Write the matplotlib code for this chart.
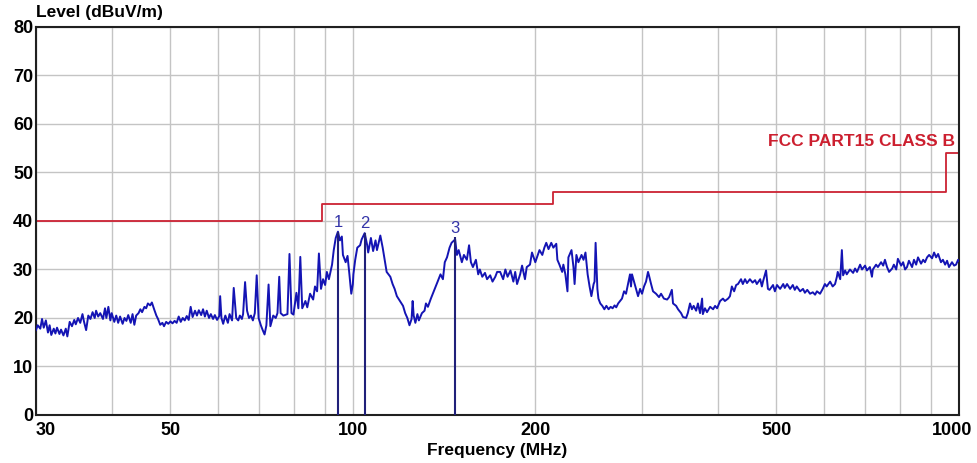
import matplotlib
matplotlib.use('Agg')
import matplotlib.pyplot as plt
from matplotlib.ticker import NullFormatter

plt.rcParams['font.family'] = ['Liberation Sans', 'DejaVu Sans']

# measured trace (MHz, dBuV/m)
freq_mhz = [
    30.0, 30.2, 30.5, 30.7, 30.9, 31.15, 31.4, 31.6, 31.8, 32.1, 32.3, 32.5, 32.8, 33.0, 33.3, 33.6, 33.8,
    34.1, 34.4, 34.7, 34.9, 35.2, 35.5, 35.8, 36.0, 36.3, 36.6, 36.9, 37.2, 37.5, 37.7, 38.0, 38.3, 38.7,
    39.0, 39.2, 39.5, 39.8, 40.0, 40.4, 40.7, 41.0, 41.3, 41.7, 42.0, 42.3, 42.6, 43.0, 43.3, 43.6, 43.9,
    44.3, 44.6, 44.9, 45.3, 45.6, 45.9, 46.3, 46.6, 47.0, 47.4, 47.7, 48.1, 48.5, 48.8, 49.2, 49.6, 50.0,
    50.4, 50.8, 51.2, 51.6, 52.0, 52.4, 52.8, 53.2, 53.6, 54.0, 54.4, 54.9, 55.3, 55.7, 56.2, 56.6, 57.0,
    57.4, 57.9, 58.3, 58.8, 59.2, 59.7, 60.2, 60.4, 60.7, 61.1, 61.6, 62.2, 62.6, 63.2, 63.6, 64.2, 64.7,
    65.1, 65.6, 65.9, 66.4, 66.9, 67.4, 67.9, 68.4, 68.9, 69.4, 69.9, 70.5, 71.0, 71.5, 72.0, 72.6,
    73.1, 73.9, 74.6, 75.1, 75.6, 76.0, 76.8, 78.0, 78.6, 79.2, 79.8, 80.7, 81.3, 81.9, 82.5, 83.5, 84.1,
    85.0, 86.0, 86.6, 87.3, 87.9, 88.6, 89.3, 90.0, 90.6, 91.3, 92.4, 93.0, 93.7, 94.5, 95.2, 95.9, 96.3,
    97.3, 98.0, 98.7, 99.4, 100.0, 100.2, 100.9, 101.7, 102.8, 103.4, 104.6, 105.6, 106.0, 107.1, 108.0,
    109.0, 109.6, 111.0, 112.0, 113.0, 113.7, 115.3, 116.3, 117.2, 118.2, 119.6, 121.0, 122.0, 123.0,
    124.0, 125.0, 125.5, 126.0, 126.8, 127.8, 128.5, 130.0, 131.3, 132.0, 133.0, 134.5, 135.5, 137.0,
    138.0, 139.5, 140.8, 141.8, 143.0, 144.4, 145.5, 147.5, 148.5, 149.5, 151.3, 152.5, 154.2, 155.5,
    156.6, 157.8, 159.6, 161.0, 162.0, 163.5, 165.2, 166.5, 168.5, 170.0, 171.8, 173.0,
    175.0, 177.0, 178.5, 180.0, 182.0, 184.0, 185.3, 186.6, 188.8, 190.2, 192.3, 193.6, 196.0, 197.5,
    200.0, 201.3, 203.2, 205.4, 207.0, 208.5, 210.3, 212.5, 214.2, 216.6, 217.5, 219.2, 221.5, 222.5,
    224.2, 226.0, 226.8, 229.5, 231.2, 232.2, 233.8, 235.6, 238.4, 240.2, 242.0, 244.0, 245.8, 247.5,
    249.6, 250.5, 251.5, 253.2, 254.2, 256.0, 258.0, 260.0, 262.0, 264.2, 266.3, 268.3, 270.3, 272.0,
    274.0, 276.0, 278.0, 280.2, 282.3, 284.5, 286.6, 287.7, 288.8, 291.0, 293.2, 295.5, 297.8, 300.0,
    302.3, 304.6, 306.9, 308.0, 310.5, 312.8, 316.4, 320.0, 322.5, 326.0, 330.0, 332.5, 336.0, 337.5,
    341.5, 344.0, 348.0, 350.5, 354.7, 357.0, 360.0, 362.6, 365.0, 368.5, 371.0, 374.0, 376.9, 378.0,
    381.0, 384.0, 388.6, 393.0, 396.0, 399.0, 403.6, 408.0, 411.0, 416.0, 419.0,
    422.0, 425.7, 429.0, 432.0, 437.0, 440.0, 443.7, 447.0, 452.0, 456.6, 461.0, 464.0, 470.0, 473.0,
    475.0, 480.6, 484.0, 487.0, 493.5, 497.0, 501.0, 507.0, 513.0, 516.0, 520.5, 526.6, 532.0, 536.0,
    540.0, 547.0, 553.0, 557.0, 562.0, 568.0, 574.0, 579.0, 583.0, 590.0, 596.0, 601.0, 605.0, 613.0,
    619.0, 624.6, 629.0, 631.0, 637.0, 641.0, 644.0, 649.0, 653.0, 661.0, 669.0, 674.0, 679.0, 687.0,
    692.0, 700.0, 705.0, 713.0, 718.6, 721.0, 730.0, 735.0, 744.0, 750.0, 755.0, 761.0, 767.0, 776.0,
    781.0, 788.0, 793.0, 803.0, 809.0, 815.0, 821.0, 827.0, 837.0, 843.0, 850.0, 856.0, 866.0, 873.0,
    879.0, 886.0, 893.0, 903.0, 910.0, 917.0, 924.0, 934.0, 941.0, 949.0, 956.0, 963.0, 974.0, 982.0,
    989.0, 997.0, 1000.0,
]
level_dbuv = [
    17.5, 18.5, 17.8, 19.8, 18.0, 19.5, 17.0, 18.5, 16.5, 17.8, 16.8, 18.0, 16.7, 17.6, 16.4, 17.8, 16.2,
    19.2, 18.3, 19.6, 18.7, 20.0, 19.0, 20.8, 19.3, 17.5, 20.5, 19.8, 21.2, 20.0, 21.5, 20.3, 21.0, 19.8,
    22.0, 20.0, 22.3, 19.5, 21.0, 19.2, 20.5, 19.0, 20.3, 18.8, 20.0, 19.4, 20.6, 19.0, 20.8, 18.6, 20.5,
    21.0, 21.8, 21.2, 22.3, 22.0, 23.0, 22.6, 23.2, 21.8, 20.5, 19.8, 18.6, 19.0, 18.3, 19.2, 18.8, 19.3,
    18.9, 19.4, 19.0, 20.3, 19.2, 20.0, 19.5, 20.4, 19.6, 22.3, 20.2, 21.5, 20.5, 21.6, 20.6, 21.8, 20.3,
    21.5, 20.0, 20.8, 19.8, 20.6, 19.6, 20.4, 24.5, 20.0, 18.8, 20.5, 19.0, 20.8, 19.5, 26.2, 20.0, 19.5,
    20.5, 19.8, 20.8, 27.4, 21.5, 20.0, 20.5, 19.5, 21.0, 28.8, 20.0, 18.5, 17.5, 16.6, 18.5, 26.9,
    18.3, 20.5, 20.0, 21.0, 28.5, 21.0, 20.5, 20.8, 33.2, 21.0, 20.7, 25.2, 22.0, 32.6, 22.0, 23.5, 22.2,
    25.0, 23.8, 26.5, 25.5, 33.3, 26.0, 28.0, 26.8, 29.5, 28.0, 31.0, 34.0, 36.5, 37.8, 36.0, 36.8, 33.0,
    31.5, 32.8, 29.0, 25.0, 27.0, 29.0, 32.0, 34.5, 35.0, 36.2, 37.5, 35.0, 33.5, 36.5, 33.8,
    36.0, 34.0, 37.0, 34.5, 31.5, 29.5, 28.5, 27.0, 26.0, 24.5, 23.5, 22.5, 21.0, 20.0,
    18.5, 19.8, 23.5, 20.5, 19.0, 20.8, 19.5, 21.0, 21.5, 23.0, 22.3, 24.0, 25.0, 26.5,
    27.5, 29.0, 28.0, 31.5, 32.5, 34.5, 35.5, 36.2, 33.0, 34.0, 31.5, 33.0, 32.0, 35.0,
    31.5, 30.5, 32.0, 29.0, 30.0, 28.5, 29.3, 28.0, 28.8, 27.5, 28.5, 29.5,
    29.5, 28.0, 30.0, 28.5, 29.8, 27.5, 29.5, 27.0, 29.0, 30.8, 28.0, 30.5, 31.0, 33.5,
    31.5, 32.5, 34.0, 33.0, 34.5, 35.5, 34.2, 35.5, 34.5, 35.3, 32.0, 31.0, 29.5, 31.0,
    29.0, 25.5, 32.5, 34.0, 30.5, 27.0, 33.0, 31.5, 33.0, 32.0, 33.5, 29.0, 26.5, 24.5,
    27.0, 27.5, 35.5, 26.0, 24.0, 23.0, 22.5, 21.8, 22.5, 21.8, 22.3, 22.0, 22.6, 22.2,
    23.0, 23.5, 24.0, 25.5, 25.0, 27.0, 29.0, 26.5, 29.0, 27.5, 26.0, 24.5, 26.0, 25.0,
    26.5, 27.5, 29.5, 28.8, 27.0, 25.5, 25.0, 24.3, 25.0, 24.0, 23.8, 24.3, 25.8, 23.0,
    22.5, 21.8, 21.0, 20.2, 20.0, 21.0, 23.0, 21.8, 22.5, 21.5, 23.0, 21.0, 24.0, 20.8,
    22.0, 21.2, 22.3, 21.8, 22.5, 22.0, 23.5, 24.0, 23.5, 24.0, 24.5,
    26.5, 25.5, 26.8, 27.0, 28.0, 27.0, 28.0, 27.2, 28.0, 27.3, 27.8, 27.0, 28.0, 26.5,
    27.5, 29.8, 26.0, 25.8, 26.8, 25.5, 26.8, 26.0, 27.0, 26.2, 27.0, 26.0, 26.8, 25.8,
    26.5, 25.5, 26.0, 25.2, 25.8, 25.0, 25.3, 24.8, 25.5, 25.0, 26.0, 27.0, 26.5, 27.5,
    26.5, 27.0, 28.5, 29.5, 28.0, 34.0, 28.8, 29.8, 29.0, 30.0, 29.3, 30.2, 29.5, 31.0,
    30.0, 30.8, 29.8, 30.5, 28.5, 30.0, 31.0, 30.5, 31.5, 30.8, 32.0, 30.5, 29.5, 30.2,
    31.0, 30.0, 32.2, 30.8, 31.5, 30.0, 30.5, 31.8, 30.5, 32.0, 31.0, 32.5, 31.2, 32.0,
    31.5, 32.5, 33.0, 32.3, 33.5, 32.5, 33.2, 31.5, 32.0, 31.0, 31.8, 30.5, 31.5, 30.8,
    31.0, 32.0, 31.8,
]

# FCC Part 15 class B limit, step edges as drawn
limit_freq = [30, 89, 214, 952, 1000]
limit_level = [40.0, 43.5, 46.0, 54.0, 54.0]

# marked peaks
marker_id = ['1', '2', '3']
marker_freq = [94.5, 104.6, 147.5]
marker_level = [37.8, 37.6, 36.6]

xtick_vals = [30, 50, 100, 200, 500, 1000]
xtick_text = ['30', '50', '100', '200', '500', '']
xgrid_vals = [40, 60, 70, 80, 90, 300, 400, 600, 700, 800, 900]

fig = plt.figure(figsize=(9.77, 4.63), dpi=100)
ax = fig.add_axes([0.0368, 0.1037, 0.9447, 0.838])

ax.plot(freq_mhz, level_dbuv, color='#1414b4', lw=1.4, zorder=3)
ax.step(limit_freq, limit_level, where='post', color='#cc2233', lw=1.3, zorder=2)

for mid, mf, ml in zip(marker_id, marker_freq, marker_level):
    ax.vlines(mf, 0, ml, color='#20207a', lw=1.5, zorder=4)
    ax.text(mf, ml + 1.8, mid, ha='center', va='center', fontsize=12, color='#3434a8')

ax.text(985, 56.3, 'FCC PART15 CLASS B', ha='right', va='center',
        fontsize=12.5, fontweight='bold', color='#cc1f2f')

ax.set_xscale('log')
ax.set_xlim(30, 1000)
ax.set_ylim(0, 80)
ax.set_xticks(xtick_vals)
ax.set_xticklabels(xtick_text)
ax.set_xticks(xgrid_vals, minor=True)
ax.xaxis.set_minor_formatter(NullFormatter())
ax.set_yticks(range(0, 81, 10))
ax.grid(which='both', color='#c4c4c4', lw=1.0, zorder=0)
ax.tick_params(which='both', length=0)
ax.tick_params(axis='x', pad=5, labelsize=13)
ax.tick_params(axis='y', pad=2, labelsize=13)
for lab in ax.get_xticklabels() + ax.get_yticklabels():
    lab.set_fontweight('bold')
ax.get_xticklabels()[0].set_ha('left')
# last frequency label sits a little left of the axis end, as in the original
ax.annotate('1000', xy=(xtick_vals[-1], 0), xycoords=('data', 'axes fraction'),
            xytext=(-5, -5), textcoords='offset points', ha='center', va='top',
            fontsize=13, fontweight='bold')
for sp in ax.spines.values():
    sp.set_color('#202020')
    sp.set_linewidth(1.5)

fig.text(36 / 977, 1 - 13 / 463, 'Level (dBuV/m)', ha='left', va='center',
         fontsize=12.5, fontweight='bold')
fig.text(497 / 977, 1 - 450 / 463, 'Frequency (MHz)', ha='center', va='center',
         fontsize=12.5, fontweight='bold')

fig.savefig('out.png', dpi=100)
